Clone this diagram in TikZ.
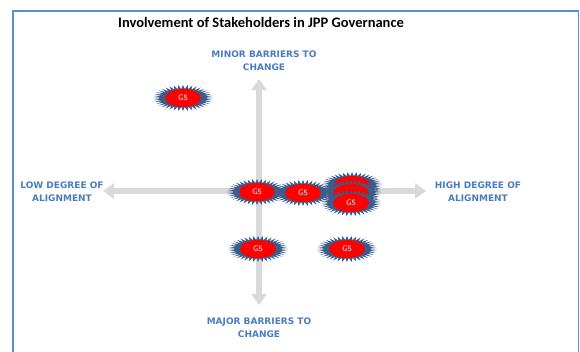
\documentclass[tikz,border=0pt]{standalone}
\usepackage{fontspec}
\setmainfont{Carlito}
\newfontfamily\labelfont{DejaVu Sans}
\usepackage{xcolor}
\usetikzlibrary{arrows.meta,shapes.geometric}

\definecolor{frameblue}{HTML}{5B8FD3}
\definecolor{labelblue}{HTML}{4A7CC0}
\definecolor{burstblue}{HTML}{3A5D8C}
\definecolor{axisgray}{HTML}{D9D9D9}

\begin{document}
\begin{tikzpicture}[x=1pt,y=-1pt,
    axis/.style={axisgray,line width=6pt,
      {Triangle[width=15pt,length=11pt]}-{Triangle[width=15pt,length=11pt]}},
    quadlabel/.style={labelblue,align=center,
      font=\labelfont\fontsize{9}{13}\selectfont\bfseries},
    core/.style={ellipse,fill=red,minimum width=36pt,minimum height=18pt,
      inner sep=0pt,text=white,font=\sffamily\fontsize{8}{9}\selectfont}]
        \useasboundingbox (0,0) rectangle (580,351);
        % stakeholder marker: spiky blue ring round a red core
        \def\burst#1#2#3{
          \fill[burstblue] ([shift={(#2)}]0:30 and 13)
            \foreach \k [evaluate=\k as \rx using {30-8*mod(\k,2)},
                         evaluate=\k as \ry using {13-4*mod(\k,2)}] in {1,...,79}
            { -- ([shift={(#2)}]\k*4.5:{\rx} and {\ry}) } -- cycle;
          \node[core] (#1) at (#2) {#3};
        }
        % frame
        \draw[frameblue,line width=1.6pt] (13,352) -- (13,11) -- (578.5,11) -- (578.5,352);
        \node[font=\bfseries\fontsize{14.5}{16}\selectfont] (title) at (261,22)
          {Involvement of Stakeholders in JPP Governance};
        % axes
        \coordinate (left)   at (103,191);
        \coordinate (right)  at (426,191);
        \coordinate (top)    at (259,79);
        \coordinate (bottom) at (259,305);
        \draw[axis] (left) -- (right);
        \draw[axis] (bottom) -- (top);
        \node[quadlabel] (minor) at (264,61) {MINOR BARRIERS TO\\CHANGE};
        \node[quadlabel] (major) at (259,328) {MAJOR BARRIERS TO\\CHANGE};
        \node[quadlabel] (low)   at (62,192)  {LOW DEGREE OF\\ALIGNMENT};
        \node[quadlabel] (high)  at (478,192) {HIGH DEGREE OF\\ALIGNMENT};
        % stakeholders
        \coordinate (pa) at (183,98);
        \coordinate (pb) at (257,192);
        \coordinate (pc) at (303,193);
        \coordinate (pd) at (352,185);
        \coordinate (pe) at (351,193);
        \coordinate (pf) at (351,203);
        \coordinate (pg) at (258,249);
        \coordinate (ph) at (347,249);
        \burst{ga}{pa}{G5}
        \burst{gb}{pb}{G5}
        \burst{gc}{pc}{G5}
        \burst{gd}{pd}{}
        \burst{ge}{pe}{}
        \burst{gf}{pf}{G5}
        \burst{gg}{pg}{G5}
        \burst{gh}{ph}{G5}
\end{tikzpicture}
\end{document}
